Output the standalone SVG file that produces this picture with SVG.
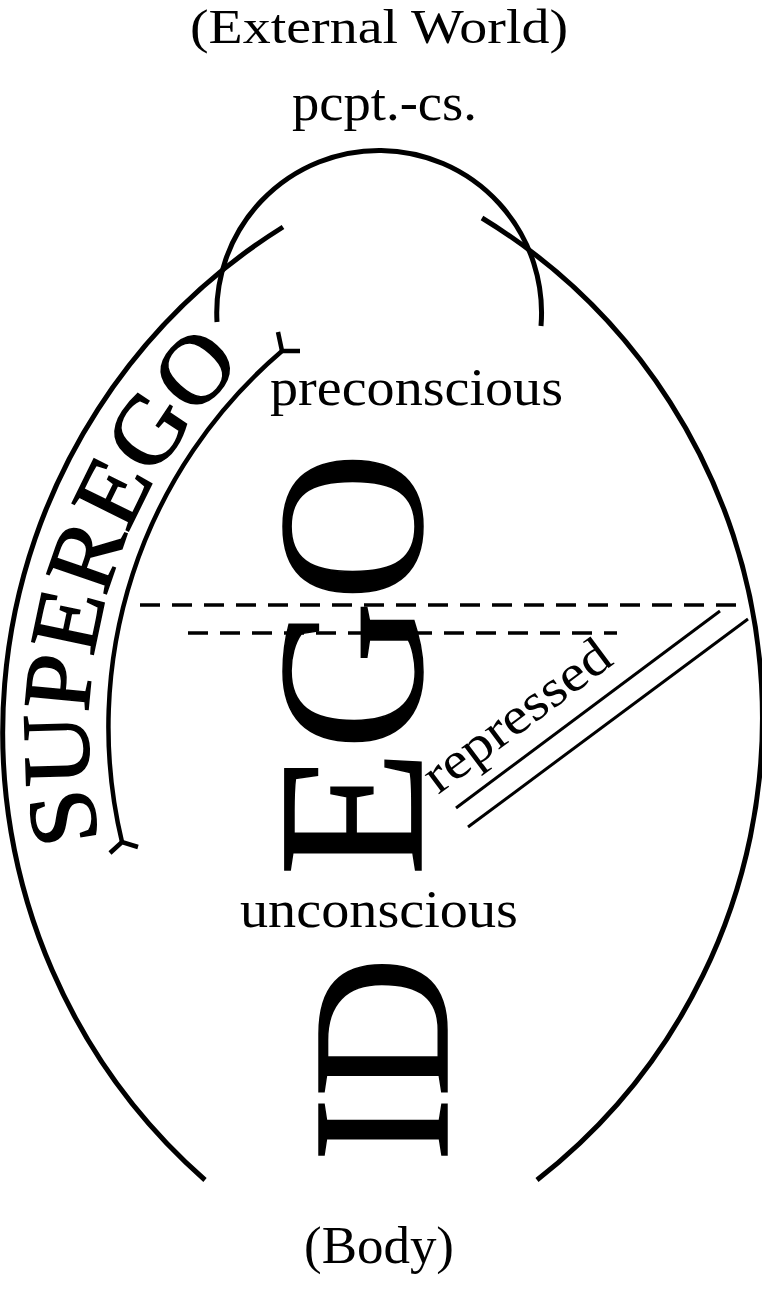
<svg xmlns="http://www.w3.org/2000/svg" width="762" height="1289" viewBox="0 0 762 1289">
  <style>
    .ln { fill: none; stroke: #000; stroke-linecap: butt; }
    .thick { stroke-width: 5; }
    .mid { stroke-width: 4.5; }
    .thin { stroke-width: 3; }
    .dash { stroke-width: 3.5; stroke-dasharray: 20 12; }
    .lbl { font-family: "Liberation Serif", "Times New Roman", serif; font-size: 52px; fill: #000; }
    .big { font-family: "Liberation Serif", "Times New Roman", serif; fill: #000; stroke: #000; stroke-width: 1.5; }
  </style>
  <defs>
    <path id="superegoPath" d="M105.5,865.8 A513,513 0 0 1 306.8,312.8"/>
  </defs>
  <rect width="762" height="1289" fill="#fff"/>

  <g id="connectors">
    <path id="outer-left" class="ln thick" d="M283,227 A596,596 0 0 0 205,1180"/>
    <path id="outer-right" class="ln thick" d="M482,218 A586,586 0 0 1 537,1180"/>
    <path id="pcpt-arc" class="ln thick" d="M217,322 A162.4,162.4 0 1 1 541,326"/>
    <path id="superego-inner" class="ln mid" d="M122,842 A494,494 0 0 1 282,351"/>
    <path class="ln mid" d="M278,332 L282,351 L300,351"/>
    <path class="ln mid" d="M110,853 L122,842 L138,847"/>
    <line class="ln dash" x1="140" y1="605" x2="748" y2="605"/>
    <line class="ln dash" x1="188" y1="633" x2="617" y2="633"/>
    <line class="ln thin" x1="456" y1="808" x2="720" y2="611"/>
    <line class="ln thin" x1="468" y1="827" x2="748" y2="619"/>
  </g>

  <g id="external-world">
    <text class="lbl" x="190" y="43" textLength="378" lengthAdjust="spacingAndGlyphs" style="font-size:48px">(External World)</text>
  </g>
  <g id="pcpt-cs">
    <text class="lbl" x="292" y="120" textLength="185" lengthAdjust="spacingAndGlyphs">pcpt.-cs.</text>
  </g>
  <g id="preconscious">
    <text class="lbl" x="270" y="405" textLength="293" lengthAdjust="spacingAndGlyphs">preconscious</text>
  </g>
  <g id="unconscious">
    <text class="lbl" x="240" y="927" textLength="278" lengthAdjust="spacingAndGlyphs">unconscious</text>
  </g>
  <g id="body">
    <text class="lbl" x="304" y="1263" textLength="150" lengthAdjust="spacingAndGlyphs">(Body)</text>
  </g>
  <g id="repressed">
    <text class="lbl" transform="translate(438,795) rotate(-36.7)" textLength="221" lengthAdjust="spacingAndGlyphs">repressed</text>
  </g>
  <g id="superego">
    <text class="big" font-size="96"><textPath href="#superegoPath" startOffset="26" textLength="519" lengthAdjust="spacingAndGlyphs">SUPEREGO</textPath></text>
  </g>
  <g id="ego">
    <text class="big" font-size="207" transform="translate(421,876) rotate(-90)" textLength="424" lengthAdjust="spacingAndGlyphs">EGO</text>
  </g>
  <g id="id">
    <text class="big" font-size="196" transform="translate(447,1162) rotate(-90)" textLength="205" lengthAdjust="spacingAndGlyphs">ID</text>
  </g>
</svg>
